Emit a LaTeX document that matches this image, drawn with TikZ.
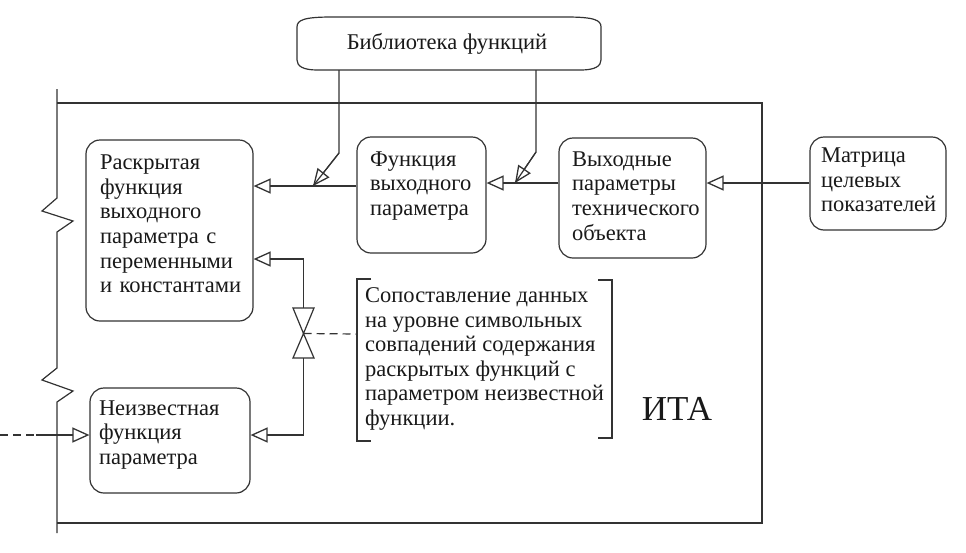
\documentclass[tikz,border=0pt]{standalone}
\usepackage{fontspec}
\setmainfont{Liberation Serif}
\usetikzlibrary{arrows.meta,calc}
\begin{document}
\begin{tikzpicture}[x=1pt,y=-1pt,
  every node/.style={font=\fontsize{22.5}{24.6}\selectfont, text=black!90},
  box/.style={draw=black!80, rounded corners=14pt, align=left, line width=1.2pt},
  arr/.style={draw=black!80, -{Triangle[open,length=17pt,width=15pt,line width=1.3pt]}, line width=1.2pt},
  ln/.style={draw=black!80, line width=1.2pt}]
\useasboundingbox (0,0) rectangle (966,552);

% frame ITA
\draw[ln] (57,89) -- (57,198) -- (42,211) -- (73,221) -- (57,232) -- (57,368) -- (42,380) -- (73,391) -- (57,402) -- (57,533);
\draw[ln] (57,103) -- (762,103) -- (762,523) -- (57,523);

% library
\node[minimum width=304pt, minimum height=53pt] (lib) at (447,43.5) {Библиотека функций};
\draw[ln] (332,17) -- (566,17) .. controls (594,17) and (601,20) .. (601,27) -- (601,60) .. controls (601,66) and (595,70) .. (581,70) -- (317,70) .. controls (303,70) and (297,66) .. (297,60) -- (297,27) .. controls (297,20) and (304,17) .. cycle;

% boxes
\node[box, minimum width=167pt, minimum height=181pt, text width=139pt, inner xsep=14pt] (A) at (169.5,230.5)
  {Раскрытая\\функция\\выходного\\параметра~с\\переменными\\и~константами\par\vspace{13pt}};
\node[box, minimum width=129pt, minimum height=116pt, text width=103pt, inner xsep=13pt] (B) at (421.5,195)
  {Функция\\выходного\\параметра\par\vspace{18pt}};
\node[box, minimum width=147pt, minimum height=120pt, text width=121pt, inner xsep=13pt] (C) at (632.5,198)
  {Выходные\\параметры\\технического\\объекта\par\vspace{4pt}};
\node[box, minimum width=136pt, minimum height=93pt, text width=114pt, inner xsep=11pt] (D) at (878,183.5)
  {Матрица\\целевых\\показателей\par\vspace{7pt}};
\node[box, minimum width=160pt, minimum height=105pt, text width=142pt, inner xsep=9pt] (E) at (170,440.5)
  {Неизвестная\\функция\\параметра\par\vspace{11pt}};

% note and brackets
\node[align=left, anchor=west, inner sep=0pt] (note) at (365,359)
  {Сопоставление данных\\на уровне символьных\\совпадений содержания\\раскрытых функций~с\\параметром неизвестной\\функции.};
\draw[ln] (371,279) -- (357,279) -- (357,441) -- (371,441);
\draw[ln] (598,280) -- (612,280) -- (612,438) -- (598,438);
\coordinate (nl) at (357,334);

\node[font=\fontsize{35}{40}\selectfont] (ita) at (677,409) {ИТА};

% valve
\coordinate (vc) at (303.5,333.5);
\coordinate (vt) at (303.5,308);
\coordinate (vb) at (303.5,358);
\draw[ln] (293,308) -- (314,308) -- (vc) -- cycle;
\draw[ln] (293,358) -- (314,358) -- (vc) -- cycle;
\draw[ln, dash pattern=on 8pt off 5pt] (vc) -- (nl);
\draw[arr] (vt) -- (303.5,259) -- (A.east |- 0,259);
\draw[arr] (vb) -- (303.5,435) -- (E.east |- 0,435);

% main flow
\draw[arr] (B.west |- 0,186) -- (A.east |- 0,186);
\draw[arr] (C.west |- 0,183) -- (B.east |- 0,183);
\draw[arr] (D.west |- 0,183) -- (C.east |- 0,183);

% library connectors
\coordinate (l1) at (339,153);
\coordinate (t1) at (313,186);
\coordinate (l2) at (536,152);
\coordinate (t2) at (515,183);
\draw[ln] (lib.south -| 339,0) -- (l1) -- (t1);
\draw[arr] (l1) -- (t1);
\draw[ln] (lib.south -| 536,0) -- (l2) -- (t2);
\draw[arr] (l2) -- (t2);

% input into E
\coordinate (in0) at (0,435);
\coordinate (in1) at (36,435);
\draw[ln, dash pattern=on 8pt off 5pt] (in0) -- (in1);
\draw[arr] (in1) -- (E.west |- 0,435);
\end{tikzpicture}
\end{document}
